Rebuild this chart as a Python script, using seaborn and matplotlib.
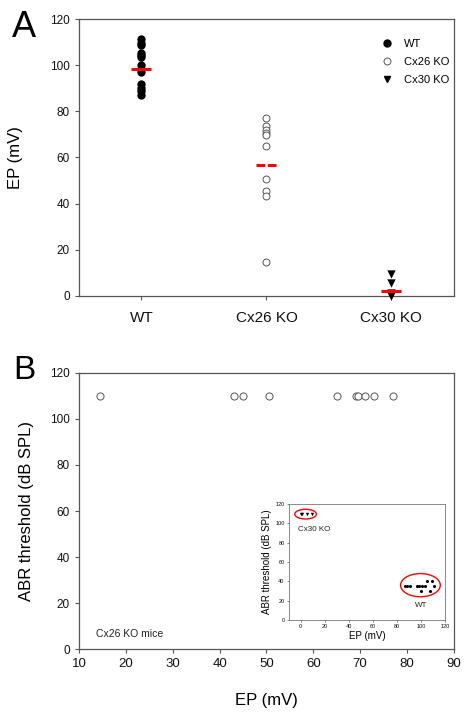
import numpy as np
import pandas as pd
import matplotlib
matplotlib.use("Agg")
import matplotlib.pyplot as plt
from matplotlib.lines import Line2D
from matplotlib.patches import Ellipse
import seaborn as sns

# --- data ---
groups = ["WT", "Cx26 KO", "Cx30 KO"]
wt_ep = [111.2, 109.7, 108.7, 105.4, 104.4, 103.4, 100.1, 97.2, 91.7, 90.2, 88.9, 87.1]
cx26_ep = [77.2, 73.6, 71.9, 70.8, 69.7, 65.1, 50.7, 45.6, 43.3, 14.6]
cx30_ep = [9.5, 5.5, 1.2, 0.0]
group_means = [98.5, 56.7, 2.3]

# panel B: Cx26 KO mice, EP vs ABR threshold
b_ep = [14.5, 43.0, 45.0, 50.5, 65.0, 69.1, 69.6, 71.0, 72.9, 76.9]
b_abr = [110, 110, 110, 110, 110, 110, 110, 110, 110, 110]

# inset: WT and Cx30 KO
inset_wt_ep = [86.7, 88.6, 90.8, 96.4, 98.3, 100.6, 103.6, 111.0, 104.7, 109.4, 100.0, 107.8]
inset_wt_abr = [35, 35, 35, 35, 35, 35, 35, 35, 40, 40, 30, 30]
inset_cx30_ep = [0.0, 1.2, 5.5, 9.5]
inset_cx30_abr = [110, 110, 110, 110]

sns.set_style("ticks")
plt.rcParams["font.family"] = ["Liberation Sans", "DejaVu Sans"]
plt.rcParams["text.color"] = "black"
plt.rcParams["axes.labelcolor"] = "black"
plt.rcParams["xtick.labelcolor"] = "#111111"
plt.rcParams["ytick.labelcolor"] = "#111111"
spine_col = "#555555"

fig = plt.figure(figsize=(4.71, 7.17), dpi=100)
axA = fig.add_axes([0.1677, 0.5872, 0.796, 0.3863])
axB = fig.add_axes([0.1677, 0.0948, 0.796, 0.385])
axI = fig.add_axes([0.613, 0.1353, 0.332, 0.1618])

# ---------- panel A ----------
dfA = pd.DataFrame({
    "group": ["WT"] * len(wt_ep) + ["Cx26 KO"] * len(cx26_ep) + ["Cx30 KO"] * len(cx30_ep),
    "ep": wt_ep + cx26_ep + cx30_ep,
})
sns.stripplot(data=dfA[dfA.group == "WT"], x="group", y="ep", order=groups, jitter=False,
              marker="o", color="black", s=6, linewidth=0, ax=axA, zorder=3)
sns.stripplot(data=dfA[dfA.group == "Cx26 KO"], x="group", y="ep", order=groups, jitter=False,
              marker="o", color="white", edgecolor="#555555", linewidth=0.7, s=5, ax=axA, zorder=3)
sns.stripplot(data=dfA[dfA.group == "Cx30 KO"], x="group", y="ep", order=groups, jitter=False,
              marker="v", color="black", s=6, linewidth=0, ax=axA, zorder=3, clip_on=False)

styles = ["-", (0, (2.9, 0.8)), "-"]
for i, m in enumerate(group_means):
    axA.hlines(m, i - 0.08, i + 0.08, color="red", lw=2.2, linestyles=[styles[i]], zorder=4)

axA.set_xlim(-0.5, 2.5)
axA.set_ylim(0, 120)
axA.set_yticks(range(0, 121, 20))
axA.set_xlabel("")
axA.set_ylabel("EP (mV)", fontsize=12)
axA.yaxis.set_label_coords(-0.15, 0.5)
axA.tick_params(axis="y", labelsize=8.5, length=3, color=spine_col, width=0.8)
axA.tick_params(axis="x", labelsize=11, length=3, color=spine_col, width=0.8, pad=8)
for s in axA.spines.values():
    s.set_color(spine_col)
    s.set_linewidth(0.9)

handles = [
    Line2D([], [], ls="", marker="o", color="black", ms=5),
    Line2D([], [], ls="", marker="o", mfc="white", mec="#555555", mew=0.7, ms=5),
    Line2D([], [], ls="", marker="v", color="black", ms=5),
]
axA.legend(handles, groups, loc="upper left", bbox_to_anchor=(0.78, 0.945), frameon=False,
           fontsize=8, handletextpad=0.5, labelspacing=0.75, borderaxespad=0)

fig.text(12 / 471, 1 - 37 / 717, "A", fontsize=26, va="baseline", color="black")
fig.text(13 / 471, 1 - 379 / 717, "B", fontsize=24, va="baseline", color="black")

# ---------- panel B ----------
sns.scatterplot(x=b_ep, y=b_abr, ax=axB, marker="o", facecolor="white",
                edgecolor="#555555", linewidth=0.7, s=26, zorder=3)
axB.set_xlim(10, 90)
axB.set_ylim(0, 120)
axB.set_xticks(range(10, 91, 10))
axB.set_yticks(range(0, 121, 20))
axB.set_xlabel("EP (mV)", fontsize=12)
axB.set_ylabel("ABR threshold (dB SPL)", fontsize=12)
axB.xaxis.set_label_coords(0.5, -0.16)
axB.yaxis.set_label_coords(-0.12, 0.5)
axB.tick_params(axis="y", labelsize=8.5, length=3, color=spine_col, width=0.8)
axB.tick_params(axis="x", labelsize=9.5, length=3, color=spine_col, width=0.8)
for s in axB.spines.values():
    s.set_color(spine_col)
    s.set_linewidth(0.9)
axB.text(0.045, 0.045, "Cx26 KO mice", transform=axB.transAxes, fontsize=7.5, color="#222222")

# ---------- inset ----------
sns.scatterplot(x=inset_wt_ep, y=inset_wt_abr, ax=axI, marker="o", color="black",
                s=5, linewidth=0, zorder=3)
sns.scatterplot(x=inset_cx30_ep, y=inset_cx30_abr, ax=axI, marker="v", color="black",
                s=6, linewidth=0, zorder=3)
axI.add_patch(Ellipse((4.0, 109.5), 18, 10, fill=False, edgecolor="red", lw=1.0))
axI.add_patch(Ellipse((99.5, 36), 33, 24, fill=False, edgecolor="red", lw=1.0))
axI.text(10.8, 94, "Cx30 KO", fontsize=5.8, ha="center", va="center", color="#222222")
axI.text(100.5, 14.8, "WT", fontsize=5.8, ha="center", va="center", color="#222222")
axI.set_xlim(-10, 120)
axI.set_ylim(0, 120)
axI.set_xticks(range(0, 121, 20))
axI.set_yticks(range(0, 121, 20))
axI.set_xlabel("EP (mV)", fontsize=7, labelpad=1)
axI.set_ylabel("ABR threshold (dB SPL)", fontsize=7, labelpad=2)
axI.tick_params(labelsize=4, length=1.5, pad=1.5, color=spine_col, width=0.5)
for s in axI.spines.values():
    s.set_color("#777777")
    s.set_linewidth(0.6)

fig.savefig("out.png", dpi=100)
